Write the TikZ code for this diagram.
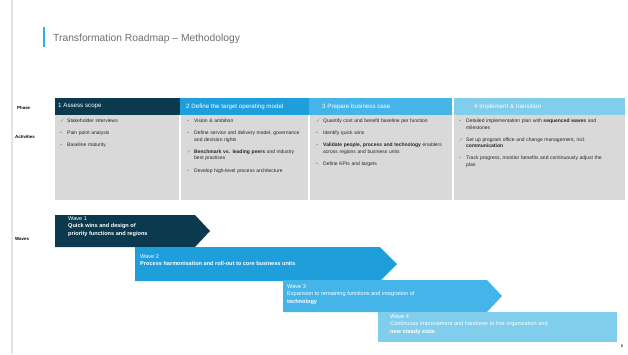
\documentclass[tikz,border=0pt]{standalone}
\usepackage{fontspec}
\setmainfont{Liberation Sans}
\newfontfamily\symfont{DejaVu Sans}
\usetikzlibrary{positioning}
\definecolor{navy}{HTML}{0B3A4E}
\definecolor{skyA}{HTML}{1E9FDC}
\definecolor{skyB}{HTML}{45B5E9}
\definecolor{skyC}{HTML}{80CEEC}
\definecolor{accent}{HTML}{2FB0EE}
\definecolor{cellgrey}{HTML}{D9D9D9}
\definecolor{txtgrey}{HTML}{6E6E6E}
\hyphenpenalty=10000
\exhyphenpenalty=10000
% bullet items
\newcommand\dotmark{\textbullet}
\newcommand\chkmark{{\symfont ✓}}
\newcommand\itm[2]{\hangindent=7pt\hangafter=1\noindent\makebox[7pt][l]{\color{gray}#1}#2\par\vspace{5.4pt}}
\tikzset{
  hdr/.style={anchor=west,inner sep=0pt,text=white,font=\fontsize{6.2}{7}\selectfont},
  cell/.style={anchor=north west,inner sep=0pt,align=left,text=black!85,font=\fontsize{5}{6.7}\selectfont},
  rowlabel/.style={anchor=west,inner sep=0pt,font=\bfseries\fontsize{4.4}{5}\selectfont},
  wavetxt/.style={anchor=north west,inner sep=0pt,align=left,text=white,font=\fontsize{5.6}{7.3}\selectfont}
}
\begin{document}
\begin{tikzpicture}[x=1pt,y=-1pt]
  \useasboundingbox[fill=white] (0,0) rectangle (628,354);
  \draw[black!10,line width=1.5pt] (12,0) -- (12,354);
  % title
  \draw[accent,line width=2pt] (43.5,27) -- (43.5,47);
  \node[anchor=west,inner sep=0pt,text=txtgrey,font=\fontsize{10.3}{12}\selectfont] (title) at (53,39) {Transformation Roadmap -- Methodology};
  % phases
  \foreach \xa/\xb/\xt/\c/\t [count=\i] in {55/180/58/navy/{1 Assess scope},
      180/309/186/skyA/{2 Define the target operating model},
      309/453/322/skyB/{3 Prepare business case},
      453/625/474/skyC/{4 Implement \& transition}}{
    \fill[\c] (\xa,98) rectangle (\xb,115);
    \fill[cellgrey] (\xa,115) rectangle (\xb,200);
    \node[hdr] (hdr\i) at (\xt,106.5) {\t};
  }
  \foreach \x in {180,309,453}
    \draw[white,line width=1.1pt] (\x,115) -- (\x,200);
  \draw[white,line width=1.1pt] (453,98) -- (453,115);
  \node[rowlabel] (lphase) at (17,108) {Phase};
  \node[rowlabel] (lact) at (15,137) {Activities};
  \node[rowlabel] (lwave) at (15,239) {Waves};
  % activities
  \node[cell,text width=110pt] (act1) at (60,118.5) {%
    \itm{\chkmark}{Stakeholder interviews}
    \itm{\dotmark}{Pain point analysis}
    \itm{\dotmark}{Baseline maturity}};
  \node[cell,text width=114pt] (act2) at (187,118.5) {%
    \itm{\dotmark}{Vision \& ambition}
    \itm{\dotmark}{Define service and delivery model, governance and decision rights}
    \itm{\chkmark}{\textbf{Benchmark vs. leading peers} and industry best practices}
    \itm{\dotmark}{Develop high-level process architecture}};
  \node[cell,text width=130pt] (act3) at (316,118.5) {%
    \itm{\chkmark}{Quantify cost and benefit baseline per function}
    \itm{\dotmark}{Identify quick wins}
    \itm{\dotmark}{\textbf{Validate people, process and technology} enablers across regions and business units}
    \itm{\dotmark}{Define KPIs and targets}};
  \node[cell,text width=150pt] (act4) at (459,118.5) {%
    \itm{\dotmark}{Detailed implementation plan with \textbf{sequenced waves} and milestones}
    \itm{\chkmark}{Set up program office and change management, incl. \textbf{communication}}
    \itm{\dotmark}{Track progress, monitor benefits and continuously adjust the plan}};
  % waves
  \fill[navy] (55,215) -- (195,215) -- (210,231) -- (195,247) -- (55,247) -- cycle;
  \fill[skyA] (135,247) -- (380,247) -- (397,264) -- (380,281) -- (135,281) -- cycle;
  \fill[skyB] (283,280) -- (487,280) -- (502,296) -- (487,312) -- (283,312) -- cycle;
  \fill[skyC] (378,312) rectangle (617,342);
  \node[wavetxt] (wave1) at (68,216.5) {Wave 1\\\textbf{Quick wins and design of}\\\textbf{priority functions and regions}};
  \node[wavetxt] (wave2) at (140,254.5) {Wave 2\\\textbf{Process harmonisation and roll-out to core business units}};
  \node[wavetxt] (wave3) at (287,284.5) {Wave 3\\Expansion to remaining functions and integration of\\\textbf{technology}};
  \node[wavetxt] (wave4) at (390,314.5) {Wave 4\\Continuous improvement and handover to line organisation and\\\textbf{new steady state}};
  \node[inner sep=0pt,font=\fontsize{4}{5}\selectfont] (pageno) at (622,346) {6};
\end{tikzpicture}
\end{document}
